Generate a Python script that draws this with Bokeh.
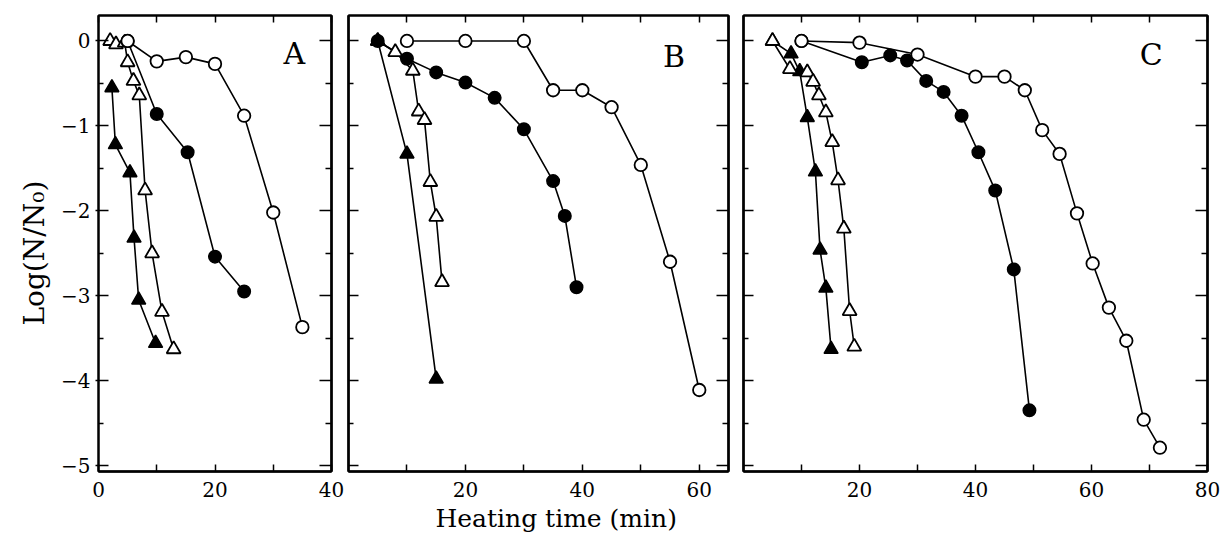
from bokeh.plotting import figure
from bokeh.layouts import row
from bokeh.models import FixedTicker, LinearAxis, Range1d, Label, Title
from bokeh.embed import file_html
from bokeh.resources import INLINE

# ---------------- data ----------------
# Panel A
A_ocirc_t = [5, 10, 15, 20, 25, 30, 35]
A_ocirc_v = [0, -0.24, -0.19, -0.27, -0.88, -2.02, -3.37]
A_fcirc_t = [5, 10, 15.3, 20, 25]
A_fcirc_v = [0, -0.86, -1.31, -2.54, -2.95]
A_otri_t = [2, 3, 4.5, 5, 6, 7, 8, 9.2, 10.9, 12.9]
A_otri_v = [0, -0.04, -0.02, -0.25, -0.47, -0.64, -1.76, -2.50, -3.19, -3.63]
A_ftri_t = [2.3, 2.9, 5.4, 6.1, 6.9, 9.8]
A_ftri_v = [-0.55, -1.22, -1.55, -2.32, -3.05, -3.56]

# Panel B
B_ocirc_t = [10, 20, 30, 35, 40, 45, 50, 55, 60]
B_ocirc_v = [0, 0, 0, -0.58, -0.58, -0.78, -1.46, -2.60, -4.11]
B_fcirc_t = [5, 10, 15, 20, 25, 30, 35, 37, 39]
B_fcirc_v = [0, -0.21, -0.37, -0.49, -0.67, -1.04, -1.65, -2.06, -2.90]
B_otri_t = [5, 8, 11, 12, 13, 14, 15, 16]
B_otri_v = [0, -0.13, -0.35, -0.83, -0.93, -1.66, -2.07, -2.84]
B_ftri_t = [5, 10, 15]
B_ftri_v = [0, -1.33, -3.98]

# Panel C
C_ocirc_t = [10, 20, 30, 40, 45, 48.5, 51.5, 54.5, 57.5, 60.2, 63, 66, 69, 71.8]
C_ocirc_v = [0, -0.02, -0.16, -0.42, -0.42, -0.58, -1.05, -1.33, -2.03, -2.62, -3.14, -3.53, -4.46, -4.79]
C_fcirc_t = [10, 20.4, 25.3, 28.2, 31.5, 34.5, 37.6, 40.5, 43.4, 46.6, 49.3]
C_fcirc_v = [0, -0.25, -0.17, -0.23, -0.47, -0.60, -0.88, -1.31, -1.76, -2.69, -4.35]
C_otri_t = [5, 8, 11, 12, 13, 14.2, 15.3, 16.3, 17.3, 18.3, 19.1]
C_otri_v = [0, -0.33, -0.37, -0.48, -0.64, -0.84, -1.19, -1.64, -2.21, -3.18, -3.60]
C_ftri_t = [5, 8.2, 9.7, 11, 12.4, 13.2, 14.2, 15.1]
C_ftri_v = [0, -0.15, -0.36, -0.90, -1.54, -2.46, -2.91, -3.63]

# axes / text
y_major = [0, -1, -2, -3, -4, -5]
y_minor = [-0.5, -1.5, -2.5, -3.5, -4.5]
y_tick_labels = ["0", "−1", "−2", "−3", "−4", "−5"]
A_xticks, A_xminor = [0, 20, 40], [10, 30]
B_xticks, B_xminor = [20, 40, 60], [10, 30, 50]
C_xticks, C_xminor = [20, 40, 60, 80], [10, 30, 50, 70]
panel_letters = ["A", "B", "C"]
x_label = "Heating time (min)"
y_label = "Log(N/N₀)"

FONT = "DejaVu Serif"
Y0, Y1 = -5.07, 0.30
FRAME_H = 456


def tick_only_axis(ticks, tick_in, width=2):
    return LinearAxis(
        ticker=FixedTicker(ticks=[], minor_ticks=ticks),
        minor_tick_in=tick_in, minor_tick_out=0,
        major_tick_in=0, major_tick_out=0,
        minor_tick_line_width=1.5, minor_tick_line_color="black",
        major_label_standoff=0,
        axis_line_width=width, axis_line_color="black",
    )


def panel(xr, fw, bl, br, xt, xm, letter, letter_pos, series, order, first=False):
    p = figure(frame_width=fw, frame_height=FRAME_H,
               x_range=Range1d(*xr), y_range=Range1d(Y0, Y1),
               output_backend="svg", toolbar_location=None,
               min_border_left=bl, min_border_right=br,
               min_border_top=15, min_border_bottom=64,
               background_fill_color="white", border_fill_color="white")
    p.xgrid.visible = False
    p.ygrid.visible = False
    p.outline_line_color = "black"
    p.outline_line_width = 2

    # bottom axis
    xa = p.xaxis[0]
    xa.ticker = FixedTicker(ticks=xt, minor_ticks=xm)
    xa.major_tick_in = 7
    xa.major_tick_out = 0
    xa.minor_tick_in = 7
    xa.minor_tick_out = 0
    xa.major_tick_line_width = 1.5
    xa.minor_tick_line_width = 1.5
    xa.axis_line_width = 2.5
    xa.major_label_text_font = FONT
    xa.major_label_text_font_size = "20px"
    xa.major_label_text_color = "black"
    xa.major_label_standoff = 10

    # left axis
    ya = p.yaxis[0]
    if first:
        ya.ticker = FixedTicker(ticks=y_major, minor_ticks=y_minor)
        ya.major_label_overrides = {t: s for t, s in zip(y_major, y_tick_labels)}
        ya.major_tick_in = 10
        ya.major_tick_out = 3
        ya.minor_tick_in = 5
        ya.minor_tick_out = 0
        ya.major_tick_line_width = 1.5
        ya.minor_tick_line_width = 1.5
        ya.axis_line_width = 2
        ya.major_label_text_font = FONT
        ya.major_label_text_font_size = "20px"
        ya.major_label_text_color = "black"
        ya.major_label_standoff = 5
    else:
        ya.ticker = FixedTicker(ticks=[], minor_ticks=y_major)
        ya.minor_tick_in = 10
        ya.minor_tick_out = 0
        ya.major_tick_in = 0
        ya.major_tick_out = 0
        ya.minor_tick_line_width = 1.5
        ya.major_label_standoff = 0
        ya.axis_line_width = 2
        p.add_layout(tick_only_axis(y_minor, 5), "left")

    # top and right tick-only axes
    p.add_layout(tick_only_axis(sorted(xt + xm), 7), "above")
    p.add_layout(tick_only_axis(y_major, 12), "right")
    p.add_layout(tick_only_axis(y_minor, 6), "right")

    # lines first
    for key in order:
        t, v = series[key]
        p.line(t, v, line_color="black", line_width=1.6)
    # then markers
    for key in order:
        t, v = series[key]
        if key == "ocirc":
            p.scatter(t, v, marker="circle", size=12.5, fill_color="white",
                      line_color="black", line_width=1.8)
        elif key == "fcirc":
            p.scatter(t, v, marker="circle", size=12.5, fill_color="black",
                      line_color="black", line_width=1.5)
        elif key == "otri":
            p.scatter(t, v, marker="triangle", size=14, fill_color="white",
                      line_color="black", line_width=1.8)
        elif key == "ftri":
            p.scatter(t, v, marker="triangle", size=14, fill_color="black",
                      line_color="black", line_width=1.5)

    p.add_layout(Label(x=letter_pos[0], y=letter_pos[1], text=letter,
                       text_font=FONT, text_font_size="30px", text_color="black",
                       text_align="center", text_baseline="middle"))
    return p


pA = panel((0, 40), 233, 98, 14, A_xticks, A_xminor, panel_letters[0], (33.6, -0.15),
           {"ocirc": (A_ocirc_t, A_ocirc_v), "fcirc": (A_fcirc_t, A_fcirc_v),
            "otri": (A_otri_t, A_otri_v), "ftri": (A_ftri_t, A_ftri_v)},
           ["ftri", "otri", "fcirc", "ocirc"], first=True)
pB = panel((0, 65), 380, 3, 8, B_xticks, B_xminor, panel_letters[1], (55.7, -0.18),
           {"ocirc": (B_ocirc_t, B_ocirc_v), "fcirc": (B_fcirc_t, B_fcirc_v),
            "otri": (B_otri_t, B_otri_v), "ftri": (B_ftri_t, B_ftri_v)},
           ["otri", "fcirc", "ocirc", "ftri"])
pC = panel((0, 80), 464, 7, 14, C_xticks, C_xminor, panel_letters[2], (70.3, -0.16),
           {"ocirc": (C_ocirc_t, C_ocirc_v), "fcirc": (C_fcirc_t, C_fcirc_v),
            "otri": (C_otri_t, C_otri_v), "ftri": (C_ftri_t, C_ftri_v)},
           ["ftri", "otri", "fcirc", "ocirc"])

# y-axis title (left of panel A) and shared x-axis title (under panel B)
pA.add_layout(Title(text=y_label, align="left", offset=146, standoff=16,
                    text_font=FONT, text_font_size="28px",
                    text_font_style="normal", text_color="black"), "left")
pB.add_layout(Title(text=x_label, align="left", offset=87, standoff=5,
                    text_font=FONT, text_font_size="25px",
                    text_font_style="normal", text_color="black"), "below")

layout = row(pA, pB, pC)
open("out.html", "w").write(file_html(layout, INLINE))
